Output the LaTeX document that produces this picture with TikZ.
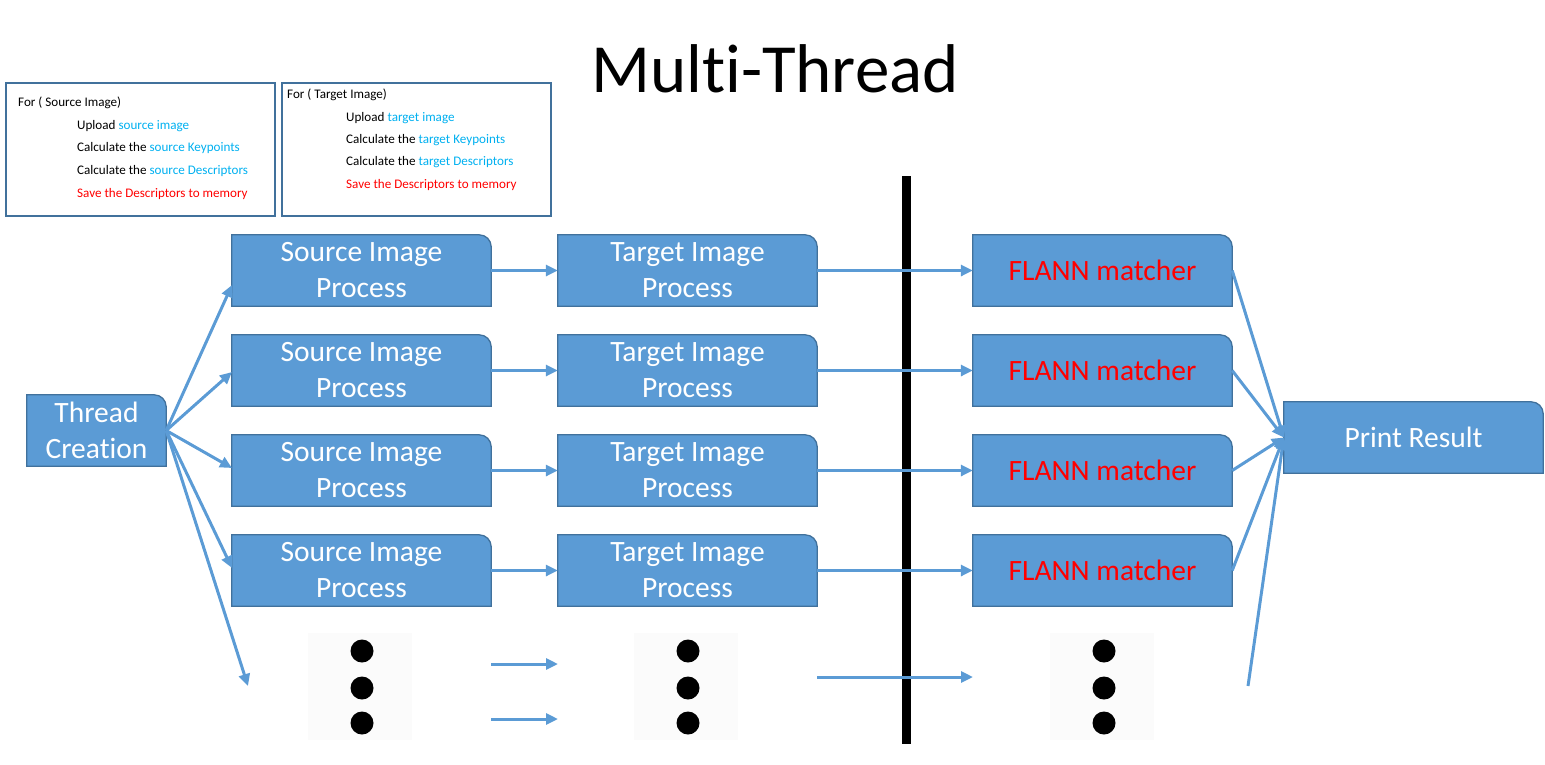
\documentclass[tikz,border=0pt]{standalone}
\usepackage{fontspec}
\setmainfont{Carlito}[Ligatures=NoCommon]
\usetikzlibrary{arrows.meta,backgrounds,calc}
\definecolor{boxblue}{HTML}{5B9BD5}
\definecolor{boxedge}{HTML}{41719C}
\definecolor{lblue}{HTML}{00B0F0}
\definecolor{pred}{HTML}{FF0000}
\definecolor{frameblue}{HTML}{41719C}
\tikzset{
  procbox/.style={minimum width=259, minimum height=71, inner sep=0, text=white, align=center,
    font=\fontsize{29.5}{36}\selectfont},
  flann/.style={procbox, text=pred},
  conn/.style={draw=boxblue, line width=3, -{Triangle[length=12,width=11]}},
  small/.style={anchor=west, inner sep=0, font=\fontsize{13.1}{15}\selectfont},
  frame/.style={draw=frameblue, line width=1.6},
  dotbg/.style={fill=black!1.5, draw=none},
  dotc/.style={fill=black, draw=none},
}
\begin{document}
\begin{tikzpicture}[x=1pt,y=-1pt]
\useasboundingbox (0,0) rectangle (1545,764);
% title
\node (title) at (775,69) {\fontsize{69}{80}\selectfont Multi-Thread};
% info boxes
\draw[frame] (6,83) rectangle (275,216);
\node[small] (a0) at (18,103) {For ( Source Image)};
\node[small] (a1) at (77,126) {Upload \textcolor{lblue}{source image}};
\node[small] (a2) at (77,148) {Calculate the \textcolor{lblue}{source Keypoints}};
\node[small] (a3) at (77,171) {Calculate the \textcolor{lblue}{source Descriptors}};
\node[small,text=pred] (a4) at (77,194) {Save the Descriptors to memory};
\draw[frame] (282,83) rectangle (551,216);
\node[small] (b0) at (287,95) {For ( Target Image)};
\node[small] (b1) at (346,118) {Upload \textcolor{lblue}{target image}};
\node[small] (b2) at (346,140) {Calculate the \textcolor{lblue}{target Keypoints}};
\node[small] (b3) at (346,162) {Calculate the \textcolor{lblue}{target Descriptors}};
\node[small,text=pred] (b4) at (346,185) {Save the Descriptors to memory};
% vertical bar
\draw[line width=9] (906,176) -- (906,744);
% process boxes
\node[procbox, minimum width=139] (tc) at (96.5,430.5) {Thread\\Creation};
\foreach \i/\y in {1/270.5,2/370.5,3/470.5,4/570.5}{
  \node[procbox] (s\i) at (361.5,\y) {Source Image\\Process};
  \node[procbox] (t\i) at (687.5,\y) {Target Image\\Process};
  \node[flann] (f\i) at (1102.5,\y) {FLANN matcher};
}
\node[procbox] (pr) at (1413.5,437.5) {Print Result};
\begin{scope}[on background layer]
\foreach \n in {tc,s1,s2,s3,s4,t1,t2,t3,t4,f1,f2,f3,f4,pr}{
  \path[fill=boxblue, draw=boxedge, line width=1.3]
    (\n.south west) -- (\n.north west) -- ([xshift=-12]\n.north east)
    arc[start angle=-90,end angle=0,radius=12] -- (\n.south east) -- cycle;
}
\end{scope}
% dots
\foreach \x/\nm in {360/d1,686/d2,1102/d3}{
  \fill[dotbg] (\x-52,633) rectangle (\x+52,740);
  \foreach \yy/\k in {651/a,688/b,723/c}{
    \node[dotc, circle, minimum size=23, inner sep=0] (\nm\k) at (\x+2,\yy) {};
  }
}
% coordinates for free ends
\coordinate (e1) at (232,285);
\coordinate (e2) at (232,372);
\coordinate (e3) at (232,468);
\coordinate (e4) at (232,568);
\coordinate (e5) at (248,686);
\coordinate (u1) at (491,664);
\coordinate (v1) at (558,664);
\coordinate (u2) at (491,719);
\coordinate (v2) at (558,719);
\coordinate (w1) at (817,677);
\coordinate (w2) at (973,677);
\coordinate (z1) at (1248,686);
% connectors
\foreach \k in {1,...,5}{ \draw[conn] (tc.east) -- (e\k); }
\foreach \i in {1,2,3,4}{
  \draw[conn] (s\i.east) -- (t\i.west);
  \draw[conn] (t\i.east) -- (f\i.west);
  \draw[conn] (f\i.east) -- (pr.west);
}
\draw[conn] (u1) -- (v1);
\draw[conn] (u2) -- (v2);
\draw[conn] (w1) -- (w2);
\draw[conn] (z1) -- (pr.west);
\end{tikzpicture}
\end{document}
